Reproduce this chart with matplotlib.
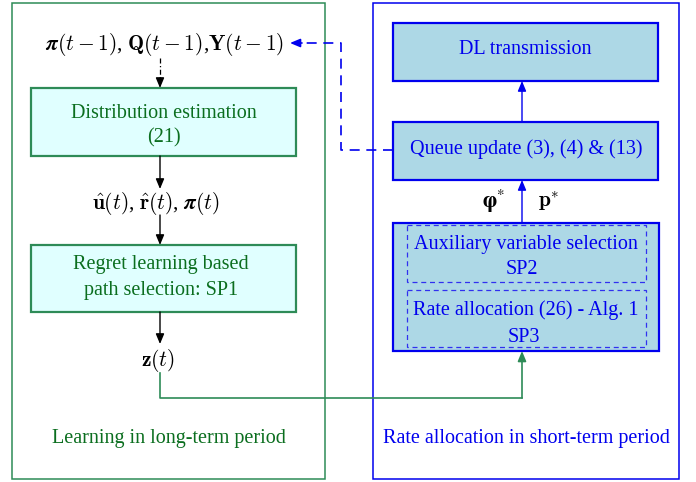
import matplotlib
matplotlib.use("Agg")
import matplotlib.pyplot as plt
from matplotlib.patches import Rectangle, FancyArrowPatch

plt.rcParams['mathtext.fontset'] = 'cm'
plt.rcParams['font.family'] = ['Liberation Serif', 'DejaVu Serif']

# Texts
left_title = "Learning in long-term period"
right_title = "Rate allocation in short-term period"
box_dist = ["Distribution estimation", "(21)"]
box_regret = ["Regret learning based", "path selection: SP1"]
box_dl = "DL transmission"
box_queue = "Queue update (3), (4) & (13)"
box_sp2 = ["Auxiliary variable selection", "SP2"]
box_sp3 = ["Rate allocation (26) - Alg. 1", "SP3"]
lbl_prev = r"$\boldsymbol{\pi}(t-1)$, $\mathbf{Q}(t-1)$,$\mathbf{Y}(t-1)$"
lbl_est = r"$\hat{\mathbf{u}}(t)$, $\hat{\mathbf{r}}(t)$, $\boldsymbol{\pi}(t)$"
lbl_z = r"$\mathbf{z}(t)$"
lbl_phi = r"$\boldsymbol{\varphi}^{*}$"
lbl_p = r"$\mathbf{p}^{*}$"

GREEN_EDGE = "#2E8B57"
GREEN_TXT = "#0B6E1F"
CYAN = "#E0FFFF"
BLUE = "#0000EE"
LBLUE = "#ADD8E6"

fig = plt.figure(figsize=(6.96, 4.82), dpi=100)
ax = fig.add_axes([0, 0, 1, 1])
ax.set_xlim(0, 696)
ax.set_ylim(482, 0)
ax.axis('off')

def rect(x0, y0, x1, y1, ec, fc='none', lw=1.2, ls='-', z=1):
    ax.add_patch(Rectangle((x0, y0), x1 - x0, y1 - y0, ec=ec, fc=fc, lw=lw, ls=ls, zorder=z))

def arrow(x0, y0, x1, y1, color, ls='-', lw=1.0):
    ax.add_patch(FancyArrowPatch((x0, y0), (x1, y1), arrowstyle='-|>,head_length=6,head_width=2.5',
                                 color=color, lw=lw, linestyle=ls, shrinkA=0, shrinkB=0,
                                 mutation_scale=1, zorder=5))

fs = 14.5
mfs = 15.5

def txt(x, y, s, color, size=fs, dy=2.5, **kw):
    ax.text(x, y + dy, s, ha='center', va='center', fontsize=size, color=color, **kw)

def label(x, y, s, color):
    txt(x, y, s, color, fs, dy=2.0)

# Outer boxes
rect(12, 3, 325, 479, GREEN_EDGE, lw=1.1)
rect(373, 3, 679, 479, BLUE, lw=1.1)

# Left column
txt(165, 42, lbl_prev, 'black', mfs)
ax.plot([160, 160], [58, 80], color='black', lw=0.9, ls=(0, (4, 2, 1, 2)))
arrow(160, 78, 160, 88, 'black')
rect(31, 88, 296, 156, GREEN_EDGE, CYAN, lw=1.6)
label(164, 112, box_dist[0], GREEN_TXT)
label(164, 136, box_dist[1], GREEN_TXT)
arrow(160, 156, 160, 189, 'black')
txt(156, 201, lbl_est, 'black', mfs)
arrow(160, 215, 160, 245, 'black')
rect(31, 245, 296, 312, GREEN_EDGE, CYAN, lw=1.6)
label(161, 263, box_regret[0], GREEN_TXT)
label(161, 289, box_regret[1], GREEN_TXT)
arrow(160, 312, 160, 344, 'black')
txt(158, 358, lbl_z, 'black', mfs)
label(169, 436, left_title, GREEN_TXT)

# Green connector z(t) -> SP box
ax.plot([160, 160, 522], [373, 398, 398], color=GREEN_EDGE, lw=1.2, zorder=4)
arrow(522, 398, 522, 351, GREEN_EDGE, lw=1.2)

# Right column
rect(393, 23, 658, 81, BLUE, LBLUE, lw=1.6)
label(525, 48, box_dl, BLUE)
arrow(522, 122, 522, 81, BLUE)
rect(393, 122, 658, 180, BLUE, LBLUE, lw=1.6)
label(526, 147, box_queue, BLUE)
arrow(522, 223, 522, 180, BLUE)
txt(493, 199, lbl_phi, 'black', mfs, math_fontfamily='stix')
txt(549, 199, lbl_p, 'black', mfs)

rect(393, 223, 659, 351, BLUE, LBLUE, lw=1.6)
rect(407, 225, 646, 282, "#3030F0", 'none', lw=0.9, ls=(0, (4, 3)), z=3)
rect(407, 290, 646, 347, "#3030F0", 'none', lw=0.9, ls=(0, (4, 3)), z=3)
label(526, 242, box_sp2[0], BLUE)
label(522, 268, box_sp2[1], BLUE)
label(526, 308, box_sp3[0], BLUE)
label(524, 335, box_sp3[1], BLUE)
label(526, 436, right_title, BLUE)

# Blue dashed feedback
ax.plot([393, 341, 341, 300], [150, 150, 43, 43], color=BLUE, lw=1.2, ls=(0, (6, 4)), zorder=4)
arrow(302, 43, 290, 43, BLUE, lw=1.2)

fig.savefig("out.png", dpi=100)
